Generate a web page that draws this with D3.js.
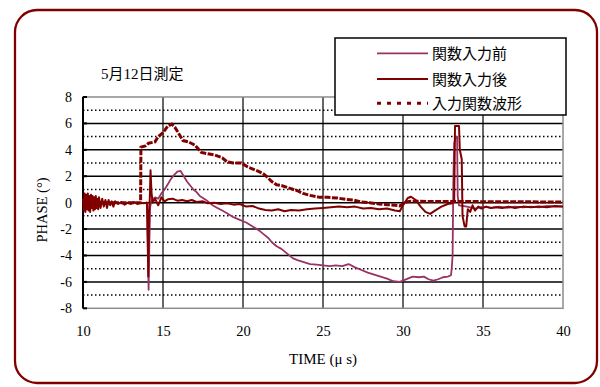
<!DOCTYPE html>
<html><head><meta charset="utf-8">
<script src="https://cdn.jsdelivr.net/npm/d3@7"></script>
<style>
html,body{margin:0;padding:0;background:#fff;}
svg{display:block;}
</style></head>
<body>
<svg id="chart" width="600" height="387"></svg>
<script>
// ---- data ----
const seriesNames = ["関数入力前", "関数入力後", "入力関数波形"];
const xTicks = [10, 15, 20, 25, 30, 35, 40];
const yTicks = [-8, -6, -4, -2, 0, 2, 4, 6, 8];

const beforeT = [10.0,10.5,11.0,11.5,12.0,12.5,13.0,13.5,14.0,14.05,14.1,14.15,14.2,14.3,14.5,14.7,14.9,15.1,15.3,15.5,15.7,15.9,16.1,16.3,16.5,16.7,16.9,17.1,17.3,17.5,17.8,18.1,18.4,18.7,19.0,19.4,19.8,20.2,20.6,21.0,21.3,21.6,21.8,22.1,22.4,22.8,23.1,23.4,23.8,24.2,24.6,25.0,25.4,25.8,26.2,26.6,27.0,27.4,27.8,28.2,28.6,29.0,29.4,29.8,30.0,30.3,30.6,31.0,31.3,31.6,31.9,32.2,32.5,32.8,33.0,33.05,33.1,33.15,33.2,33.3,33.38,33.42,33.5,34.0,34.5,35.0,35.5,36.0,36.5,37.0,37.5,38.0,38.5,39.0,39.5,40.0];
const beforeV = [0.1,-0.1,0.05,-0.1,0.0,-0.05,0.0,-0.05,0.0,-3.5,-6.6,-3.0,-0.3,0.2,0.4,0.3,0.7,1.0,1.4,1.8,2.1,2.35,2.4,2.0,1.6,1.3,1.0,0.8,0.5,0.35,0.1,-0.2,-0.4,-0.6,-0.8,-1.1,-1.3,-1.5,-1.8,-2.1,-2.4,-2.7,-3.0,-3.3,-3.5,-3.9,-4.2,-4.35,-4.5,-4.65,-4.7,-4.75,-4.8,-4.75,-4.8,-4.65,-4.9,-5.1,-5.3,-5.45,-5.6,-5.75,-5.95,-6.0,-5.9,-5.75,-5.6,-5.65,-5.6,-5.8,-5.9,-5.8,-5.65,-5.6,-5.5,-4.9,-4.0,2.0,4.5,5.0,5.0,0.5,-0.2,-0.3,-0.45,-0.3,-0.4,-0.3,-0.4,-0.3,-0.35,-0.3,-0.35,-0.25,-0.3,-0.3];

const afterT = [10.0,10.05,10.1,10.15,10.2,10.25,10.3,10.35,10.4,10.45,10.5,10.55,10.6,10.65,10.7,10.75,10.8,10.85,10.9,10.95,11.0,11.1,11.2,11.3,11.4,11.5,11.6,11.7,11.8,11.9,12.0,12.2,12.4,12.6,12.8,13.0,13.2,13.4,13.6,13.8,14.0,14.05,14.08,14.12,14.18,14.22,14.28,14.35,14.5,14.7,14.9,15.1,15.3,15.6,15.9,16.2,16.5,16.8,17.1,17.5,17.8,18.2,18.6,19.0,19.4,19.8,20.2,20.6,21.0,21.4,21.8,22.2,22.6,23.0,23.5,24.0,24.5,25.0,25.5,26.0,26.5,27.0,27.5,28.0,28.5,29.0,29.5,29.8,30.0,30.3,30.5,30.8,31.1,31.4,31.7,32.0,32.4,32.8,33.1,33.2,33.25,33.5,33.55,33.67,33.72,33.85,33.95,34.05,34.2,34.35,34.5,34.7,34.9,35.2,35.5,35.8,36.2,36.6,37.0,37.5,38.0,38.5,39.0,39.5,40.0];
const afterV = [0.3,-0.6,0.7,-0.7,0.6,-0.5,0.7,-0.6,0.5,-0.7,0.6,-0.4,0.5,-0.6,0.4,-0.5,0.5,-0.4,0.3,-0.5,0.4,-0.4,0.3,-0.3,0.2,-0.4,0.2,-0.2,0.1,-0.3,0.1,-0.1,0.05,-0.15,0.0,-0.1,0.05,-0.1,0.0,-0.05,0.0,-3.0,-5.6,-1.0,0.5,2.45,0.8,0.0,0.3,-0.2,0.4,0.1,0.25,0.3,0.15,0.2,0.1,0.2,0.05,0.1,-0.05,0.0,-0.1,-0.05,-0.15,-0.1,-0.3,-0.25,-0.45,-0.55,-0.6,-0.5,-0.65,-0.55,-0.6,-0.5,-0.45,-0.4,-0.35,-0.3,-0.35,-0.3,-0.45,-0.4,-0.5,-0.45,-0.6,-0.65,-0.2,0.35,0.45,0.2,-0.3,-0.7,-0.85,-0.6,-0.3,-0.1,-0.05,0.2,5.8,5.8,4.0,3.3,-1.0,-1.8,-1.8,-0.5,-0.7,-0.2,-0.6,-0.3,-0.45,-0.3,-0.4,-0.35,-0.4,-0.3,-0.4,-0.3,-0.35,-0.3,-0.35,-0.25,-0.3];

const inputT = [10.0,13.6,13.62,13.9,14.1,14.5,14.7,15.0,15.3,15.55,15.75,16.0,16.25,16.6,17.0,17.4,17.8,18.25,18.7,19.0,19.4,19.9,20.3,20.9,21.25,21.5,21.8,22.1,22.4,22.9,23.4,23.75,24.2,24.8,25.3,25.9,26.4,26.9,27.4,27.9,28.5,29.0,29.5,29.8,30.2,30.5,40.0];
const inputV = [0.0,0.0,4.2,4.3,4.5,4.6,5.0,5.3,5.8,5.95,5.7,5.2,4.7,4.6,4.35,3.8,3.7,3.6,3.4,3.1,3.0,3.0,2.7,2.4,2.2,1.95,1.6,1.35,1.3,1.1,0.9,0.7,0.55,0.4,0.4,0.35,0.25,0.2,0.05,0.0,-0.1,-0.15,-0.2,-0.25,0.05,0.1,0.05];

// ---- drawing ----
const svg = d3.select("#chart");
const serif = "'Liberation Serif','Times New Roman',serif";
const cjk = "'Noto Sans CJK JP','Noto Sans CJK SC',sans-serif";
const mixed = "'Liberation Serif','Noto Sans CJK JP',serif";

// outer frame
svg.append("rect").attr("x", 15).attr("y", 10).attr("width", 582).attr("height", 373)
  .attr("rx", 22).attr("ry", 22).attr("fill", "#fff").attr("stroke", "#800000").attr("stroke-width", 2.3);

const x = d3.scaleLinear().domain([10, 40]).range([83, 563]);
const y = d3.scaleLinear().domain([-8, 8]).range([308.3, 97]);

// grid: dotted odd values
const g = svg.append("g");
d3.range(-7, 8, 2).forEach(v => {
  g.append("line").attr("x1", x(10)).attr("x2", x(40)).attr("y1", y(v)).attr("y2", y(v))
    .attr("stroke", "#000").attr("stroke-width", 1.5).attr("stroke-dasharray", "1.5,2.5");
});
// vertical gridlines
xTicks.slice(1, -1).forEach(t => {
  g.append("line").attr("x1", x(t)).attr("x2", x(t)).attr("y1", y(8)).attr("y2", y(-8))
    .attr("stroke", "#000").attr("stroke-width", 1.2);
});
// solid even values
yTicks.slice(1, -1).forEach(v => {
  g.append("line").attr("x1", x(10)).attr("x2", x(40)).attr("y1", y(v)).attr("y2", y(v))
    .attr("stroke", "#000").attr("stroke-width", 1.5);
});
// plot border (gray)
g.append("rect").attr("x", x(10)).attr("y", y(8)).attr("width", x(40) - x(10)).attr("height", y(-8) - y(8))
  .attr("fill", "none").attr("stroke", "#8c8c8c").attr("stroke-width", 1.5);
// left axis line black
g.append("line").attr("x1", x(10)).attr("x2", x(10)).attr("y1", y(8)).attr("y2", y(-8))
  .attr("stroke", "#000").attr("stroke-width", 2);
yTicks.forEach(v => {
  g.append("line").attr("x1", x(10)).attr("x2", x(10) + 4).attr("y1", y(v)).attr("y2", y(v))
    .attr("stroke", "#000").attr("stroke-width", 2);
});

// axes labels via d3 axes
const yAxis = svg.append("g").attr("transform", `translate(${x(10)},0)`)
  .call(d3.axisLeft(y).tickValues(yTicks).tickSize(0).tickPadding(11).tickFormat(d => String(d)));
yAxis.select(".domain").remove();
yAxis.attr("font-family", serif);
yAxis.selectAll("text").attr("font-family", serif).attr("font-size", 14).attr("fill", "#000");

const xAxis = svg.append("g").attr("transform", `translate(0,${y(-8)})`)
  .call(d3.axisBottom(x).tickValues(xTicks).tickSize(0).tickPadding(17).tickFormat(d => String(d)));
xAxis.select(".domain").remove();
xAxis.attr("font-family", serif);
xAxis.selectAll("text").attr("font-family", serif).attr("font-size", 14.5).attr("fill", "#000");

// series
const line = d3.line().x(d => x(d[0])).y(d => y(d[1]));
const zip = (a, b) => a.map((t, i) => [t, b[i]]);

svg.append("path").datum(zip(beforeT, beforeV)).attr("d", line)
  .attr("fill", "none").attr("stroke", "#993366").attr("stroke-width", 1.8).attr("stroke-linejoin", "round");
svg.append("path").datum(zip(afterT, afterV)).attr("d", line)
  .attr("fill", "none").attr("stroke", "#800000").attr("stroke-width", 2).attr("stroke-linejoin", "round");
svg.append("path").datum(zip(inputT, inputV)).attr("d", line)
  .attr("fill", "none").attr("stroke", "#800000").attr("stroke-width", 3).attr("stroke-dasharray", "6,1.5");

// title
svg.append("text").attr("x", 101).attr("y", 79).attr("font-family", mixed).attr("font-size", 15)
  .attr("fill", "#000").text("5月12日測定");

// axis titles
svg.append("text").attr("transform", "translate(47,210) rotate(-90)").attr("text-anchor", "middle")
  .attr("font-family", serif).attr("font-size", 14.5).attr("fill", "#000").text("PHASE (°)");
svg.append("text").attr("x", 323).attr("y", 364).attr("text-anchor", "middle")
  .attr("font-family", serif).attr("font-size", 15).attr("fill", "#000").text("TIME (μ s)");

// legend
const lg = svg.append("g");
lg.append("rect").attr("x", 335).attr("y", 38).attr("width", 231).attr("height", 77)
  .attr("fill", "#fff").attr("stroke", "#000").attr("stroke-width", 1.5);
const legStyles = [
  { color: "#993366", w: 1.8, dash: null },
  { color: "#800000", w: 2, dash: null },
  { color: "#800000", w: 3, dash: "4,6" }
];
const legY = [53.3, 79, 103.3];
seriesNames.forEach((n, i) => {
  const s = legStyles[i];
  const l = lg.append("line").attr("x1", 377).attr("x2", 428).attr("y1", legY[i]).attr("y2", legY[i])
    .attr("stroke", s.color).attr("stroke-width", s.w);
  if (s.dash) l.attr("stroke-dasharray", s.dash);
  lg.append("text").attr("x", 432).attr("y", legY[i] + 6).attr("font-family", cjk).attr("font-size", 15)
    .attr("fill", "#000").text(n);
});
</script>
</body></html>
